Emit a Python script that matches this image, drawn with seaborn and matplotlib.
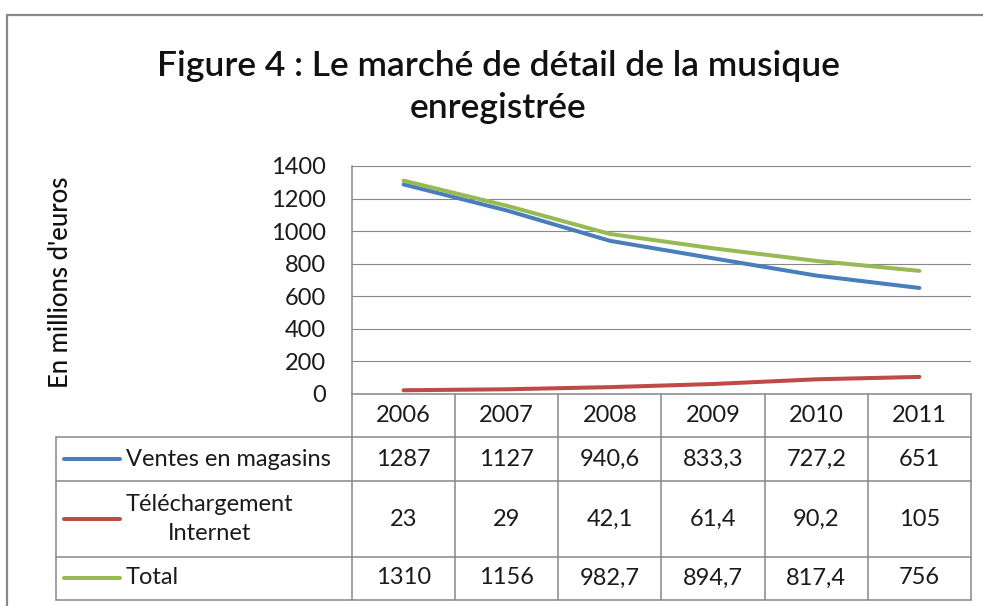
import numpy as np
import pandas as pd
import seaborn as sns
import matplotlib.pyplot as plt
from matplotlib.lines import Line2D
from matplotlib.transforms import blended_transform_factory

years = [2006, 2007, 2008, 2009, 2010, 2011]
ventes = [1287, 1127, 940.6, 833.3, 727.2, 651]
telechargement = [23, 29, 42.1, 61.4, 90.2, 105]
total = [1310, 1156, 982.7, 894.7, 817.4, 756]
series_names = ["Ventes en magasins", "Téléchargement\nInternet", "Total"]
colors = ["#4a7ebb", "#be4b48", "#98b954"]
y_ticks = [0, 200, 400, 600, 800, 1000, 1200, 1400]

W, H = 983, 606


def fx(x):
    return x / W


def fy(y):
    return 1 - y / H


def fmt(v):
    # french decimal comma
    if float(v).is_integer():
        return str(int(v))
    return str(v).replace(".", ",")


sns.set_theme(style="white")
plt.rcParams["font.family"] = ["Lato", "DejaVu Sans"]

df = pd.DataFrame({
    "annee": years * 3,
    "valeur": ventes + telechargement + total,
    "serie": np.repeat(series_names, len(years)),
})

fig = plt.figure(figsize=(W / 100, H / 100), dpi=100)
ax = fig.add_axes([fx(352), fy(394), fx(971) - fx(352), fy(166) - fy(394)])

sns.lineplot(data=df, x="annee", y="valeur", hue="serie", hue_order=series_names,
             palette=colors, linewidth=2.9, legend=False, ax=ax)

grid_col = "#878787"
ax.set_xlim(years[0] - 0.5, years[-1] + 0.5)
ax.set_ylim(0, 1400)
ax.set_yticks(y_ticks)
ax.set_xticks([])
ax.set_xlabel("")
ax.set_ylabel("")
ax.grid(axis="y", color=grid_col, linewidth=0.8)
ax.tick_params(axis="y", length=0, pad=19, labelsize=17, labelcolor="#1a1a1a")
for side in ["top", "right"]:
    ax.spines[side].set_visible(False)
for side in ["left", "bottom"]:
    ax.spines[side].set_color(grid_col)
    ax.spines[side].set_linewidth(1.1)

# title and y label
fig.text(fx(498), fy(87), "Figure 4 : Le marché de détail de la musique\nenregistrée",
         ha="center", va="center", fontsize=25.5, fontweight="semibold",
         linespacing=1.35, color="#111111")
fig.text(fx(61), fy(282), "En millions d'euros", rotation=90, ha="center", va="center",
         fontsize=18.5, fontweight="medium", color="#111111")

# data table below the plot
trans = blended_transform_factory(ax.transData, fig.transFigure)
tcol = grid_col
lw = 1.1
row_tops = [437, 481, 557]
row_bottom = 600
row_centers = [459, 519, 578]
table_left = 56
right_fig = ax.get_position().x1

# header row with years
for yr in years:
    fig.text(yr, fy(415), str(yr), transform=trans, ha="center", va="center",
             fontsize=17, color="#1a1a1a")
# vertical lines
for edge in [yr - 0.5 for yr in years] + [years[-1] + 0.5]:
    fig.add_artist(Line2D([edge, edge], [fy(394), fy(row_bottom)], transform=trans,
                          color=tcol, linewidth=lw))
# horizontal lines
for yy in row_tops + [row_bottom]:
    fig.add_artist(Line2D([fx(table_left), right_fig], [fy(yy), fy(yy)],
                          transform=fig.transFigure, color=tcol, linewidth=lw))
fig.add_artist(Line2D([fx(table_left), fx(table_left)], [fy(row_tops[0]), fy(row_bottom)],
                      transform=fig.transFigure, color=tcol, linewidth=lw))

for name, vals, col, yc in zip(series_names, [ventes, telechargement, total], colors, row_centers):
    fig.add_artist(Line2D([fx(64), fx(120)], [fy(yc), fy(yc)], transform=fig.transFigure,
                          color=col, linewidth=2.9, solid_capstyle="round"))
    fig.text(fx(126), fy(yc), name, ha="left", va="center", multialignment="center",
             fontsize=17, color="#1a1a1a", linespacing=1.5)
    for yr, v in zip(years, vals):
        fig.text(yr, fy(yc), fmt(v), transform=trans, ha="center", va="center",
                 fontsize=17, color="#1a1a1a")

# outer frame
frame_col = "#8a8a8a"
fig.add_artist(Line2D([fx(7), 1], [fy(15), fy(15)], transform=fig.transFigure,
                      color=frame_col, linewidth=1.6))
fig.add_artist(Line2D([fx(7), fx(7)], [fy(15), 0], transform=fig.transFigure,
                      color=frame_col, linewidth=1.6))

fig.savefig("out.png", dpi=100)
